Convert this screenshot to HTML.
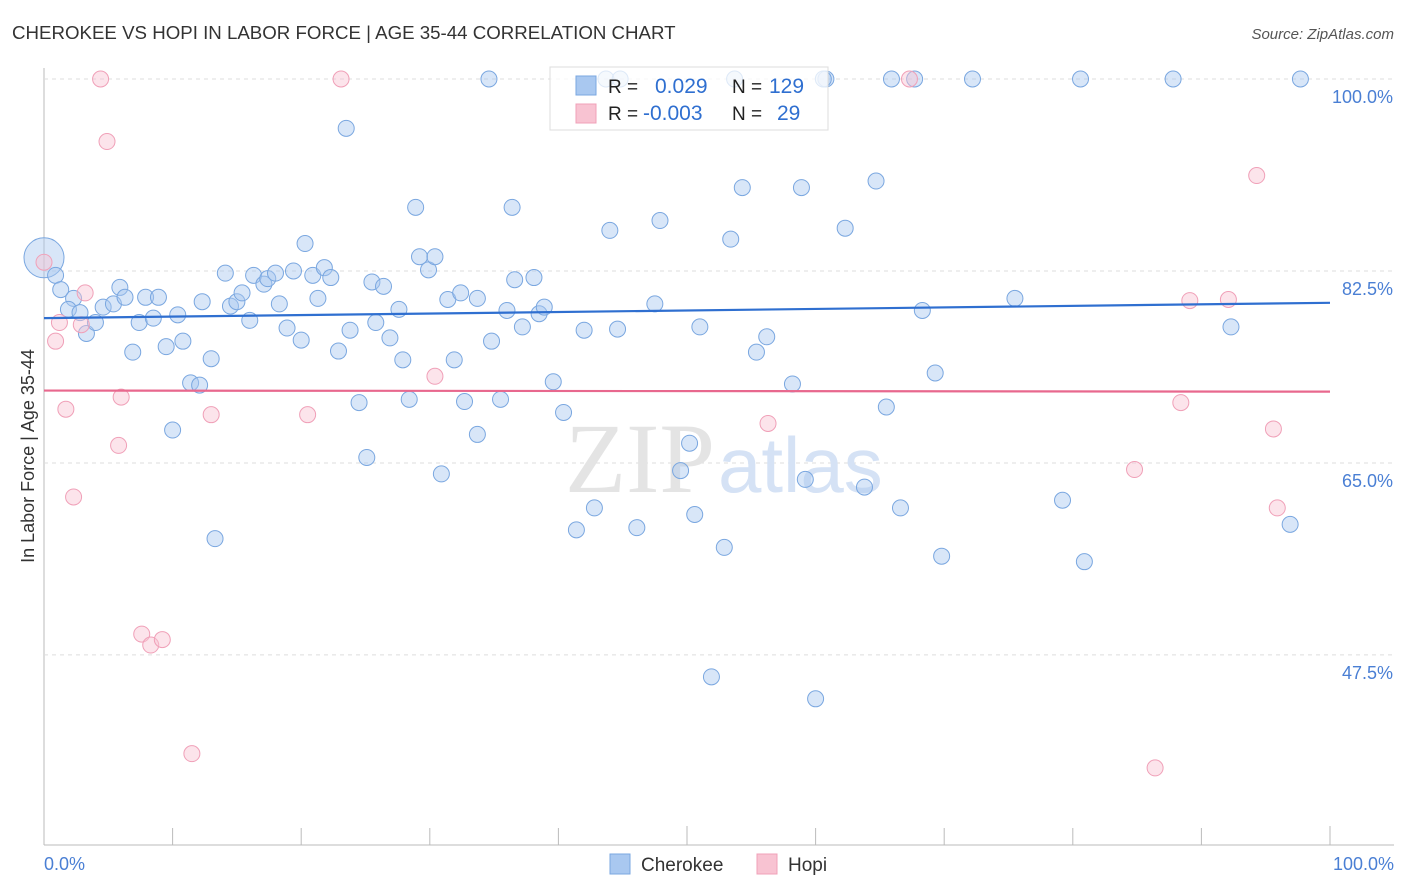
<!DOCTYPE html>
<html><head><meta charset="utf-8"><style>
body{margin:0;background:#fff;font-family:"Liberation Sans",sans-serif;}
svg{display:block}
</style></head><body>
<svg id="chart" width="1406" height="892">
<text x="12" y="39" font-size="18.7" fill="#333">CHEROKEE VS HOPI IN LABOR FORCE | AGE 35-44 CORRELATION CHART</text>
<text x="1394" y="39" font-size="15" fill="#555" text-anchor="end" font-style="italic">Source: ZipAtlas.com</text>
<text x="34" y="456" font-size="18" fill="#333" text-anchor="middle" transform="rotate(-90 34 456)">In Labor Force | Age 35-44</text>
<g id="grid"></g>
<text x="715" y="492" font-size="100" fill="#e4e4e4" text-anchor="end" font-family="Liberation Serif">ZIP</text>
<text x="718" y="492" font-size="78" fill="#d5e2f5">atlas</text>
<g id="pts"></g>
<g id="lines"></g>
<g>
<rect x="550" y="67" width="278" height="63" fill="#fff" fill-opacity="0.75" stroke="#ddd"/>
<rect x="576" y="76" width="20" height="19" fill="#a9c8f0" stroke="#7aa7e0"/>
<rect x="576" y="104" width="20" height="19" fill="#f8c3d2" stroke="#f0a0b8"/>
<text x="608" y="93" font-size="19" fill="#222">R = </text><text x="655" y="93" font-size="21" fill="#2f6fd0">0.029</text>
<text x="732" y="93" font-size="19" fill="#222">N = </text><text x="769" y="93" font-size="21" fill="#2f6fd0">129</text>
<text x="608" y="120" font-size="19" fill="#222">R = </text><text x="643" y="120" font-size="21" fill="#2f6fd0">-0.003</text>
<text x="732" y="120" font-size="19" fill="#222">N = </text><text x="777" y="120" font-size="21" fill="#2f6fd0">29</text>
</g>
<g>
<rect x="610" y="854" width="20" height="20" fill="#a9c8f0" stroke="#7aa7e0"/>
<text x="641" y="871" font-size="19" fill="#333">Cherokee</text>
<rect x="757" y="854" width="20" height="20" fill="#f8c3d2" stroke="#f0a0b8"/>
<text x="788" y="871" font-size="19" fill="#333">Hopi</text>
</g>
<text x="44" y="870" font-size="18" fill="#4a7fd4">0.0%</text>
<text x="1394" y="870" font-size="18" fill="#4a7fd4" text-anchor="end">100.0%</text>
</svg>
<script>
const yTicks=[100,82.5,65,47.5];
const yTickLabels=["100.0%","82.5%","65.0%","47.5%"];
const cherX=[0,0.9,1.3,2.3,1.9,2.8,3.3,4.0,4.6,5.4,5.9,6.3,6.9,7.4,7.9,8.5,8.9,9.5,10.0,10.4,10.8,11.4,12.1,12.3,13.0,13.3,14.1,14.5,15.0,15.4,16.0,16.3,17.1,17.4,18.0,18.3,18.9,19.4,20.0,20.3,20.9,21.3,21.8,22.3,22.9,23.5,23.8,24.5,25.1,25.5,25.8,26.4,26.9,27.6,27.9,28.4,28.9,29.2,29.9,30.4,30.9,31.4,31.9,32.4,32.7,33.7,33.7,34.6,34.8,35.5,36.0,36.4,36.6,37.2,38.1,38.5,38.9,39.6,40.4,41.4,42.0,42.8,44.0,44.6,46.1,47.5,47.9,49.5,50.2,50.6,51.0,51.9,52.9,53.4,54.3,55.4,56.2,58.2,58.9,59.2,60.0,60.8,62.3,63.8,64.7,65.5,65.9,66.6,67.7,68.3,69.3,69.8,72.2,75.5,79.2,80.6,80.9,87.8,92.3,96.9,97.7,43.7,44.8,53.7,60.6];
const cherY=[83.7,82.1,80.8,80.0,79.0,78.7,76.8,77.8,79.2,79.5,81.0,80.1,75.1,77.8,80.1,78.2,80.1,75.6,68.0,78.5,76.1,72.3,72.1,79.7,74.5,58.1,82.3,79.3,79.7,80.5,78.0,82.1,81.3,81.8,82.3,79.5,77.3,82.5,76.2,85.0,82.1,80.0,82.8,81.9,75.2,95.5,77.1,70.5,65.5,81.5,77.8,81.1,76.4,79.0,74.4,70.8,88.3,83.8,82.6,83.8,64.0,79.9,74.4,80.5,70.6,80.0,67.6,100,76.1,70.8,78.9,88.3,81.7,77.4,81.9,78.6,79.2,72.4,69.6,58.9,77.1,60.9,86.2,77.2,59.1,79.5,87.1,64.3,66.8,60.3,77.4,45.5,57.3,85.4,90.1,75.1,76.5,72.2,90.1,63.5,43.5,100,86.4,62.8,90.7,70.1,100,60.9,100,78.9,73.2,56.5,100,80.0,61.6,100,56.0,100,77.4,59.4,100,100,100,100,100];
const hopiX=[0,4.4,4.9,1.2,0.9,3.2,2.9,1.7,6.0,5.8,2.3,7.6,8.3,9.2,11.5,13.0,20.5,23.1,30.4,56.3,67.3,84.8,86.4,88.4,89.1,92.1,94.3,95.6,95.9];
const hopiY=[83.3,100,94.3,77.8,76.1,80.5,77.6,69.9,71.0,66.6,61.9,49.4,48.4,48.9,38.5,69.4,69.4,100,72.9,68.6,100,64.4,37.2,70.5,79.8,79.9,91.2,68.1,60.9];
const cherTrend=[78.2,79.6];
const hopiTrend=[71.6,71.5];
const NS="http://www.w3.org/2000/svg";
const sx=v=>44+v*12.86;
const sy=v=>79+(100-v)*10.97;
function mk(tag,attrs,parent){const e=document.createElementNS(NS,tag);for(const k in attrs)e.setAttribute(k,attrs[k]);parent.appendChild(e);return e;}
const grid=document.getElementById('grid');
mk('line',{x1:44,y1:68,x2:44,y2:845,stroke:'#bbb'},grid);
mk('line',{x1:44,y1:845,x2:1394,y2:845,stroke:'#bbb'},grid);
for(let i=0;i<=10;i++){mk('line',{x1:sx(i*10),y1:845,x2:sx(i*10),y2:i%5==0?826:828,stroke:'#bbb'},grid);}
yTicks.forEach((t,i)=>{
const l=mk('line',{x1:44,y1:sy(t),x2:1394,y2:sy(t),stroke:'#ddd','stroke-dasharray':'4,4'},grid);


const tx=mk('text',{x:1393,y:sy(t)+24,'font-size':18,fill:'#4a7fd4','text-anchor':'end'},grid);
tx.textContent=yTickLabels[i];


});
const pts=document.getElementById('pts');
cherX.forEach((x,i)=>{
const c=mk('circle',{cx:sx(x),cy:sy(cherY[i]),r:i==0?20:8,fill:'#a9c8f0','fill-opacity':0.45,stroke:'#7aa7e0','stroke-width':1},pts);


});
hopiX.forEach((x,i)=>{
const c=mk('circle',{cx:sx(x),cy:sy(hopiY[i]),r:8,fill:'#f8c3d2','fill-opacity':0.45,stroke:'#f0a0b8','stroke-width':1},pts);


});
const lines=document.getElementById('lines');
const l1=mk('line',{x1:sx(0),y1:sy(cherTrend[0]),x2:sx(100),y2:sy(cherTrend[1]),stroke:'#2f6fd0','stroke-width':2.2},lines);


const l2=mk('line',{x1:sx(0),y1:sy(hopiTrend[0]),x2:sx(100),y2:sy(hopiTrend[1]),stroke:'#e8688e','stroke-width':2.2},lines);


</script>
</body></html>
